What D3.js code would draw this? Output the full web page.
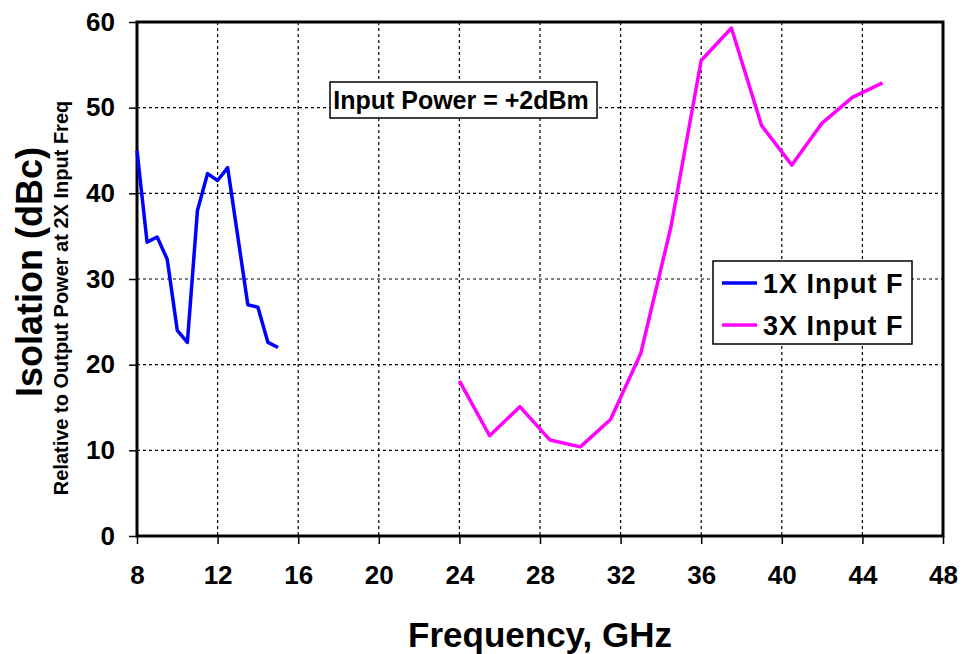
<!DOCTYPE html>
<html>
<head>
<meta charset="utf-8">
<script src="https://cdn.jsdelivr.net/npm/d3@7"></script>
<style>
  body { margin: 0; background: #fff; }
  text { font-family: Arial, "Liberation Sans", sans-serif; fill: #000; }
</style>
</head>
<body>
<svg width="962" height="654"></svg>
<script>
const svg = d3.select('svg');

// data
const freq1x = [8, 8.5, 9, 9.5, 10, 10.5, 11, 11.5, 12, 12.5, 13, 13.5, 14, 14.5, 15];
const iso1x  = [45, 34.3, 34.9, 32.3, 24, 22.6, 38, 42.3, 41.5, 43, 35, 27, 26.7, 22.6, 22];
const freq3x = [24, 25.5, 27, 28.5, 30, 31.5, 33, 34.5, 36, 37.5, 39, 40.5, 42, 43.5, 45];
const iso3x  = [18.1, 11.7, 15.1, 11.2, 10.4, 13.6, 21.3, 36.1, 55.5, 59.3, 47.9, 43.3, 48.2, 51.2, 52.9];
const xTicks = [8, 12, 16, 20, 24, 28, 32, 36, 40, 44, 48];
const yTicks = [0, 10, 20, 30, 40, 50, 60];
const seriesNames = ['1X Input F', '3X Input F'];
const seriesColors = ['#0000ff', '#ff00ff'];

const m = {left: 137, right: 943, top: 22, bottom: 536};

const x = d3.scaleLinear().domain([8, 48]).range([m.left, m.right]);
const y = d3.scaleLinear().domain([0, 60]).range([m.bottom, m.top]);

// grid
svg.append('g')
  .selectAll('line')
  .data(xTicks.slice(1, -1))
  .enter().append('line')
    .attr('x1', d => x(d)).attr('x2', d => x(d))
    .attr('y1', m.top).attr('y2', m.bottom)
    .attr('stroke', '#000').attr('stroke-width', 1.2)
    .attr('stroke-dasharray', '3,3');

svg.append('g')
  .selectAll('line')
  .data(yTicks.slice(1, -1))
  .enter().append('line')
    .attr('x1', m.left).attr('x2', m.right)
    .attr('y1', d => y(d)).attr('y2', d => y(d))
    .attr('stroke', '#000').attr('stroke-width', 1.2)
    .attr('stroke-dasharray', '3,3');

// axes
const xAxis = svg.append('g')
  .attr('transform', `translate(0,${m.bottom})`)
  .call(d3.axisBottom(x).tickValues(xTicks).tickSize(8).tickPadding(15).tickFormat(d3.format('d')));
const yAxis = svg.append('g')
  .attr('transform', `translate(${m.left},0)`)
  .call(d3.axisLeft(y).tickValues(yTicks).tickSize(8).tickPadding(14).tickFormat(d3.format('d')));

[xAxis, yAxis].forEach(a => {
  a.select('.domain').remove();
  a.selectAll('.tick line').attr('stroke', '#000').attr('stroke-width', 1.5);
  a.selectAll('.tick text')
    .attr('font-family', 'Arial, "Liberation Sans", sans-serif')
    .attr('font-size', 26).attr('font-weight', 'bold').attr('fill', '#000');
});
xAxis.selectAll('.tick text').attr('dy', '0.95em');

// plot frame
svg.append('rect')
  .attr('x', m.left).attr('y', m.top)
  .attr('width', m.right - m.left).attr('height', m.bottom - m.top)
  .attr('fill', 'none').attr('stroke', '#000').attr('stroke-width', 3);

// lines
const line = d3.line().x(d => x(d[0])).y(d => y(d[1]));
const series = [d3.zip(freq1x, iso1x), d3.zip(freq3x, iso3x)];

svg.append('g')
  .selectAll('path')
  .data(series)
  .enter().append('path')
    .attr('d', line)
    .attr('fill', 'none')
    .attr('stroke', (d, i) => seriesColors[i])
    .attr('stroke-width', 3.5)
    .attr('stroke-linejoin', 'round');

// annotation
svg.append('rect')
  .attr('x', 330).attr('y', 82).attr('width', 267).attr('height', 36)
  .attr('fill', '#fff').attr('stroke', '#000').attr('stroke-width', 1.5);
svg.append('text')
  .attr('x', 461).attr('y', 109)
  .attr('text-anchor', 'middle')
  .attr('font-size', 25).attr('font-weight', 'bold')
  .text('Input Power = +2dBm');

// legend
const legend = svg.append('g');
legend.append('rect')
  .attr('x', 713).attr('y', 261).attr('width', 199).attr('height', 83)
  .attr('fill', '#fff').attr('stroke', '#000').attr('stroke-width', 1.5);
const items = legend.selectAll('g.item')
  .data(seriesNames)
  .enter().append('g')
    .attr('class', 'item')
    .attr('transform', (d, i) => `translate(722,${283 + i * 42})`);
items.append('line')
  .attr('x1', 0).attr('x2', 35)
  .attr('stroke', (d, i) => seriesColors[i])
  .attr('stroke-width', 3.5);
items.append('text')
  .attr('x', 41).attr('y', 10)
  .attr('font-size', 27).attr('font-weight', 'bold')
  .attr('letter-spacing', 1)
  .text(d => d);

// axis titles
svg.append('text')
  .attr('x', 540).attr('y', 647)
  .attr('text-anchor', 'middle')
  .attr('font-size', 35).attr('font-weight', 'bold')
  .text('Frequency, GHz');

svg.append('text')
  .attr('transform', 'translate(42,272) rotate(-90)')
  .attr('text-anchor', 'middle')
  .attr('font-size', 36).attr('font-weight', 'bold')
  .text('Isolation (dBc)');

svg.append('text')
  .attr('transform', 'translate(68,298) rotate(-90)')
  .attr('text-anchor', 'middle')
  .attr('font-size', 20).attr('font-weight', 'bold')
  .text('Relative to Output Power at 2X Input Freq');
</script>
</body>
</html>
